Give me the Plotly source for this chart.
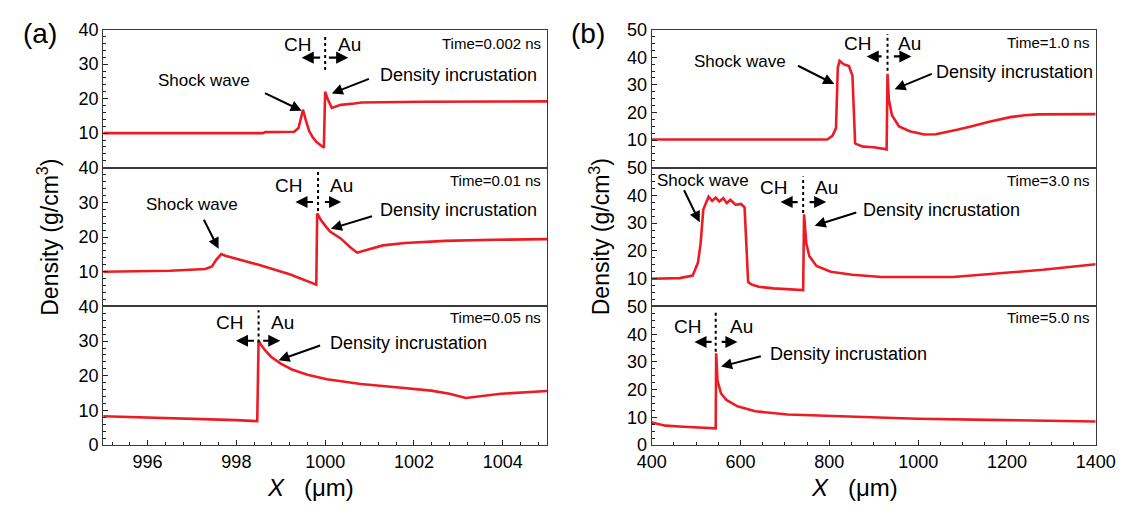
import plotly.graph_objects as go

# ---------------- density profiles ----------------
# (a) early times, X in micrometres
a1_x = [995.0, 998.6, 998.65, 999.3, 999.4, 999.46, 999.5, 999.56, 999.64, 999.72, 999.8, 999.9, 999.97,
        1000.0, 1000.06, 1000.15, 1000.23, 1000.35, 1000.66, 1000.82, 1002.2, 1005.0]
a1_y = [10.0, 10.0, 10.3, 10.4, 11.5, 15.0, 16.8, 14.0, 10.6, 8.8, 7.5, 6.5, 5.8,
        22.0, 19.8, 17.3, 17.7, 18.2, 18.6, 18.9, 19.1, 19.2]

a2_x = [995.0, 996.5, 997.3, 997.45, 997.55, 997.66, 997.75, 998.5, 999.2, 999.8,
        999.82, 999.9, 1000.0, 1000.11, 1000.35, 1000.55, 1000.72, 1000.9, 1001.3, 1001.8, 1002.7, 1003.8, 1005.0]
a2_y = [10.0, 10.3, 10.8, 11.5, 13.5, 15.1, 14.6, 12.0, 9.3, 6.3,
        26.8, 25.0, 23.3, 21.6, 19.6, 17.2, 15.5, 16.2, 17.6, 18.3, 18.9, 19.2, 19.4]

a3_x = [995.0, 996.0, 997.0, 998.0, 998.47, 998.5, 998.55, 998.65, 998.78, 999.0, 999.25, 999.6, 1000.04, 1000.8,
        1001.6, 1002.39, 1002.8, 1003.17, 1003.96, 1005.0]
a3_y = [8.3, 8.0, 7.6, 7.2, 6.9, 30.1, 29.0, 27.3, 25.5, 23.5, 21.8, 20.3, 19.0, 17.6,
        16.7, 15.7, 14.8, 13.6, 14.8, 15.6]

# (b) later times
b1_x = [400, 795, 807, 815, 819, 823, 832, 844, 852, 855, 858, 860, 876, 900, 929,
        931, 934, 941, 957, 981, 1014, 1040, 1062, 1090, 1119, 1160, 1208, 1240, 1270, 1400]
b1_y = [10.2, 10.2, 11.5, 14.3, 36.2, 38.7, 37.5, 36.8, 33.4, 20.0, 8.8, 8.6, 7.6, 7.4, 6.6,
        34.0, 24.7, 19.0, 14.9, 13.2, 12.0, 12.1, 12.8, 13.8, 14.9, 16.6, 18.3, 19.0, 19.3, 19.4]

b2_x = [400, 463, 492, 504, 510, 516, 528, 536, 544, 552, 561, 569, 577, 589, 601, 609,
        617, 625, 641, 674, 741, 743, 748, 755, 771, 803, 852, 917, 1079, 1160, 1281, 1400]
b2_y = [10.0, 10.2, 11.1, 15.8, 22.7, 34.9, 39.5, 38.0, 39.2, 37.8, 39.0, 37.2, 38.4, 36.6, 36.9, 35.7,
        8.8, 7.9, 7.1, 6.5, 5.9, 33.2, 22.7, 18.1, 14.6, 12.5, 11.4, 10.6, 10.6, 11.7, 13.2, 15.2]

b3_x = [400, 431, 471, 512, 544, 545, 548, 556, 568, 593, 633, 706, 803, 917, 998, 1160, 1281, 1400]
b3_y = [8.1, 7.0, 6.6, 6.4, 6.0, 33.1, 23.3, 18.6, 16.3, 14.0, 12.2, 11.0, 10.5, 9.9, 9.5, 9.1, 8.7, 8.5]

times = ["Time=0.002 ns", "Time=0.01 ns", "Time=0.05 ns", "Time=1.0 ns", "Time=3.0 ns", "Time=5.0 ns"]
time_y = [36.1, 36.3, 36.9, 45.5, 45.3, 45.9]
xs = [a1_x, a2_x, a3_x, b1_x, b2_x, b3_x]
ys = [a1_y, a2_y, a3_y, b1_y, b2_y, b3_y]

# CH / Au interface marker per panel: x, dotted-line y span, arrow y, left/right arrow ends, label x
iface_x = [1000.0, 999.84, 998.5, 931, 741, 544]
iface_y0 = [28.3, 27.5, 29.6, 35.1, 33.7, 33.7]
iface_y1 = [38.1, 38.9, 38.9, 48.4, 46.8, 48.8]
iface_arrow_y = [31.9, 30.1, 30.1, 40.3, 37.6, 37.2]
left_from = [999.92, 999.76, 998.43, 921, 732, 538]
left_to = [999.47, 999.33, 997.99, 884, 690, 496]
right_from = [1000.05, 999.96, 998.57, 942, 752, 554]
right_to = [1000.52, 1000.36, 998.99, 985, 793, 593]
ch_x = [999.37, 999.17, 997.84, 864, 674, 481]
au_x = [1000.55, 1000.37, 999.05, 981, 793, 602]
label_y = [35.6, 34.9, 35.4, 45.0, 42.7, 42.8]

# "Shock wave" labels (panels without one use None)
sw_text = [(997.27, 25.2), (997.0, 29.4), None, (599, 38.4), (516, 45.3), None]
sw_tail = [(998.61, 21.8), (997.25, 25.4), None, (726, 37.2), (471, 42.4), None]
sw_tip = [(999.47, 16.5), (997.6, 16.6), None, (811, 30.3), (508, 30.3), None]

# "Density incrustation" labels
di_text = [(1003.0, 26.9), (1003.0, 27.7), (1001.88, 29.4), (1218, 34.6), (1053, 34.6), (844, 32.8)]
di_tail = [(1001.02, 25.9), (1001.09, 26.1), (999.92, 28.9), (1034, 34.2), (864, 34.0), (649, 32.2)]
di_tip = [(1000.15, 21.5), (1000.13, 22.4), (998.95, 24.5), (947, 28.4), (767, 29.1), (556, 28.3)]

# ---------------- layout geometry ----------------
W, H = 1138, 513
left_dom = [91 / W, 549 / W]
right_dom = [657 / W, 1115 / W]
row_edges = [20.5, 164.0, 308.5, 452.7]
row_dom = [[(H - row_edges[k + 1]) / H, (H - row_edges[k]) / H] for k in range(3)]

FONT = "Liberation Sans, Arial, sans-serif"
RED = "rgb(236,28,36)"

fig = go.Figure()
annotations = []
shapes = []
layout = {}

for i in range(6):
    n = i + 1
    col = 0 if i < 3 else 1
    row = i % 3
    xa = "x" if n == 1 else f"x{n}"
    ya = "y" if n == 1 else f"y{n}"
    xkey = "xaxis" if n == 1 else f"xaxis{n}"
    ykey = "yaxis" if n == 1 else f"yaxis{n}"

    fig.add_trace(go.Scatter(x=xs[i], y=ys[i], mode="lines", xaxis=xa, yaxis=ya,
                             line=dict(color=RED, width=2.6), showlegend=False,
                             hoverinfo="skip"))

    if col == 0:
        xr = [995, 1005]
        xtv = [996, 998, 1000, 1002, 1004]
        xminor = 0.4
        yr = [0, 40]
        ytv = [0, 10, 20, 30, 40] if row == 2 else [10, 20, 30, 40]
        yminor = 2
    else:
        xr = [400, 1400]
        xtv = [400, 600, 800, 1000, 1200, 1400]
        xminor = 50
        yr = [0, 50]
        ytv = [0, 10, 20, 30, 40, 50] if row == 2 else [10, 20, 30, 40, 50]
        yminor = 2.5

    bottom = row == 2
    layout[xkey] = dict(
        domain=left_dom if col == 0 else right_dom,
        anchor=ya, range=xr, showgrid=False, zeroline=False,
        showline=True, linecolor="#3a3a3a", linewidth=1.2, mirror=True,
        ticks="inside" if bottom else "", ticklen=5, tickwidth=1.2, tickcolor="#222",
        tickmode="array", tickvals=xtv, ticktext=[str(v) for v in xtv],
        showticklabels=bottom, ticklabeloverflow="allow",
        tickfont=dict(family=FONT, size=18, color="black"),
        minor=dict(ticks="inside" if bottom else "", dtick=xminor, tick0=xtv[0],
                   ticklen=3, tickcolor="#222", showgrid=False),
    )
    layout[ykey] = dict(
        domain=row_dom[row], anchor=xa, range=yr, showgrid=False, zeroline=False,
        showline=True, linecolor="#3a3a3a", linewidth=1.2, mirror=True,
        ticks="inside", ticklen=5, tickwidth=1.2, tickcolor="#222",
        tickmode="array", tickvals=ytv, ticktext=[str(v) for v in ytv],
        ticklabeloverflow="allow",
        tickfont=dict(family=FONT, size=18, color="black"),
        minor=dict(ticks="inside", dtick=yminor, tick0=0, ticklen=3,
                   tickcolor="#222", showgrid=False),
    )

    # time stamp
    annotations.append(dict(
        text=times[i], xref=f"{xa} domain", yref=ya, x=0.99, y=time_y[i],
        xanchor="right", yanchor="middle", showarrow=False,
        font=dict(family=FONT, size=15, color="black")))

    # CH | Au interface
    shapes.append(dict(type="line", xref=xa, yref=ya, x0=iface_x[i], x1=iface_x[i],
                       y0=iface_y0[i], y1=iface_y1[i],
                       line=dict(color="black", width=2, dash="dot")))
    for tx, ty in ((ch_x[i], "CH"), (au_x[i], "Au")):
        annotations.append(dict(text=ty, xref=xa, yref=ya, x=tx, y=label_y[i],
                                showarrow=False, xanchor="center", yanchor="middle",
                                font=dict(family=FONT, size=19, color="black")))
    for frm, to in ((left_from[i], left_to[i]), (right_from[i], right_to[i])):
        annotations.append(dict(text="", xref=xa, yref=ya, axref=xa, ayref=ya,
                                x=to, y=iface_arrow_y[i], ax=frm, ay=iface_arrow_y[i],
                                showarrow=True, arrowhead=2, arrowsize=1.1,
                                arrowwidth=2.2, arrowcolor="black"))

    # shock wave label
    if sw_text[i] is not None:
        annotations.append(dict(text="Shock wave", xref=xa, yref=ya,
                                x=sw_text[i][0], y=sw_text[i][1], showarrow=False,
                                xanchor="center", yanchor="middle",
                                font=dict(family=FONT, size=17, color="black")))
        annotations.append(dict(text="", xref=xa, yref=ya, axref=xa, ayref=ya,
                                x=sw_tip[i][0], y=sw_tip[i][1],
                                ax=sw_tail[i][0], ay=sw_tail[i][1],
                                showarrow=True, arrowhead=2, arrowsize=1.1,
                                arrowwidth=2, arrowcolor="black"))

    # density incrustation label
    annotations.append(dict(text="Density incrustation", xref=xa, yref=ya,
                            x=di_text[i][0], y=di_text[i][1], showarrow=False,
                            xanchor="center", yanchor="middle",
                            font=dict(family=FONT, size=18, color="black")))
    annotations.append(dict(text="", xref=xa, yref=ya, axref=xa, ayref=ya,
                            x=di_tip[i][0], y=di_tip[i][1],
                            ax=di_tail[i][0], ay=di_tail[i][1],
                            showarrow=True, arrowhead=2, arrowsize=1.1,
                            arrowwidth=2, arrowcolor="black"))

# panel letters
annotations.append(dict(text="(a)", xref="paper", yref="paper", x=6 / W, y=1 - 6 / H,
                        xanchor="left", yanchor="top", showarrow=False,
                        font=dict(family=FONT, size=28, color="black")))
annotations.append(dict(text="(b)", xref="paper", yref="paper", x=572 / W, y=1 - 6 / H,
                        xanchor="left", yanchor="top", showarrow=False,
                        font=dict(family=FONT, size=28, color="black")))

# axis titles
for xc in (34 / W, 603 / W):
    annotations.append(dict(text="Density (g/cm<sup>3</sup>)", xref="paper", yref="paper",
                            x=xc, y=1 - 236 / H, textangle=-90, showarrow=False,
                            xanchor="center", yanchor="middle",
                            font=dict(family=FONT, size=23, color="black")))
for xc in (305 / W, 866 / W):
    annotations.append(dict(text="<i>X</i>\u00a0\u00a0\u00a0(μm)", xref="paper", yref="paper",
                            x=xc, y=1 - 497 / H, showarrow=False,
                            xanchor="center", yanchor="middle",
                            font=dict(family=FONT, size=24, color="black")))

fig.update_layout(
    width=W, height=H, margin=dict(l=0, r=0, t=0, b=0),
    paper_bgcolor="white", plot_bgcolor="white",
    annotations=annotations, shapes=shapes, **layout)

fig.write_html("out.html")
